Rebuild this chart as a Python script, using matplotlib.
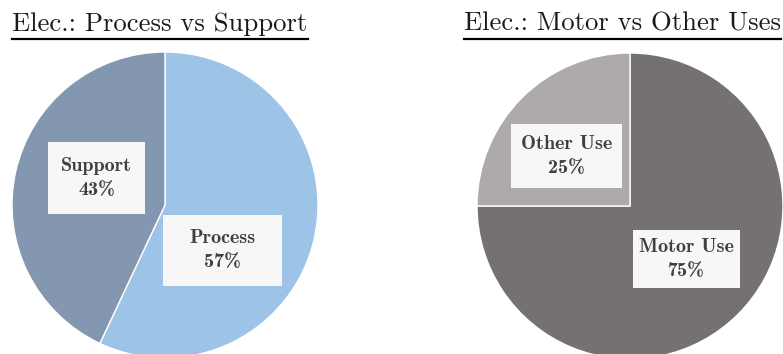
import matplotlib
matplotlib.use("Agg")
import matplotlib.pyplot as plt
from matplotlib.lines import Line2D
from matplotlib.patches import Rectangle

# electricity split, left chart
process_labels = ["Process", "Support"]
process_shares = [57, 43]
process_colors = ["#9DC3E6", "#8497B0"]

# electricity split, right chart
motor_labels = ["Motor Use", "Other Use"]
motor_shares = [75, 25]
motor_colors = ["#767171", "#AEAAAA"]

titles = ["Elec.: Process vs Support", "Elec.: Motor vs Other Uses"]

W, H = 783, 354
R = 153  # pie radius in pixels
fig = plt.figure(figsize=(W / 100, H / 100), dpi=100)
fig.patch.set_facecolor("white")

title_font = dict(family="cmr10", size=19.2, color="#1a1a1a")
label_font = dict(family="cmb10", size=14.5, color="#404040")


def px_axes(cx, cy):
    # square axes around a pie centre given in pixels from top-left
    return fig.add_axes([(cx - R) / W, (H - cy - R) / H, 2 * R / W, 2 * R / H])


def draw_pie(ax, shares, colors, labels, label_boxes):
    ax.pie(shares, colors=colors, startangle=90, counterclock=False,
           radius=1.0, wedgeprops=dict(edgecolor="white", linewidth=1.0))
    ax.set_xlim(-1, 1)
    ax.set_ylim(-1, 1)
    ax.set_aspect("auto")
    ax.axis("off")
    total = sum(shares)
    # label boxes: centre (data units) and size (pixels)
    for lab, val, (x, y, bw, bh) in zip(labels, shares, label_boxes):
        ax.add_patch(Rectangle((x - bw / 2 / R, y - bh / 2 / R), bw / R, bh / R,
                               fc="#F7F7F7", ec="none", zorder=3))
        ax.text(x, y, "{}\n{:.0f}%".format(lab, 100 * val / total), ha="center", va="center",
                linespacing=1.45, fontdict=label_font, zorder=4)


ax1 = px_axes(165, 205)
draw_pie(ax1, process_shares, process_colors, process_labels,
         [(0.375, -0.297, 119, 71), (-0.448, 0.176, 97, 72)])

ax2 = px_axes(630, 206)
draw_pie(ax2, motor_shares, motor_colors, motor_labels,
         [(0.369, -0.346, 107, 58), (-0.415, 0.327, 111, 64)])

# underlined titles
fig.canvas.draw()
renderer = fig.canvas.get_renderer()
for tx, txt in zip([160, 622], titles):
    t = fig.text(tx / W, 1 - 24 / H, txt, ha="center", va="center", **title_font)
    bb = t.get_window_extent(renderer)
    fig.add_artist(Line2D([bb.x0 / W, bb.x1 / W], [1 - 38.5 / H, 1 - 38.5 / H],
                          transform=fig.transFigure, color="black", lw=1.6))

fig.savefig("out.png", dpi=100)
